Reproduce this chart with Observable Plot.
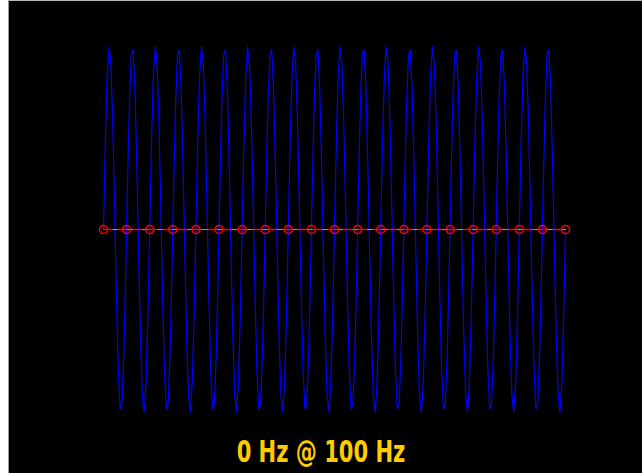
<!DOCTYPE html>
<html>
<head>
<meta charset="utf-8">
<script src="https://cdn.jsdelivr.net/npm/d3@7"></script>
<script src="https://cdn.jsdelivr.net/npm/@observablehq/plot@0.6"></script>
<style>
  html, body { margin: 0; padding: 0; background: #fff; }
  #panel { position: absolute; left: 8px; top: 0; width: 634px; height: 473px; background: #000;
           border-left: 1px solid #999; border-top: 1px solid #bbb; box-sizing: border-box; }
  #chart { position: absolute; left: 0; top: 0; }
  #title { position: absolute; left: 0; width: 642px; top: 434px; text-align: center;
           font-family: "Liberation Sans Narrow", "DejaVu Sans Condensed", sans-serif; font-weight: bold;
           font-size: 30px; color: #ffcc00; transform: scaleX(0.78); transform-origin: 321px 0; }
</style>
</head>
<body>
<div id="panel"></div>
<div id="chart"></div>
<div id="title">0 Hz @ 100 Hz</div>
<script>
// Continuous 100 Hz signal, step 0.0008 s
const waveStep = 0.0008;
const waveY = [
0, 0.482, 0.844, 0.998, 0.905, 0.588, 0.125, -0.368, -0.771, -0.982, -0.951, -0.685, -0.249, 0.249, 0.685, 0.951, 0.982, 0.771, 0.368, -0.125, -0.588, -0.905, -0.998, -0.844, -0.482,
0, 0.482, 0.844, 0.998, 0.905, 0.588, 0.125, -0.368, -0.771, -0.982, -0.951, -0.685, -0.249, 0.249, 0.685, 0.951, 0.982, 0.771, 0.368, -0.125, -0.588, -0.905, -0.998, -0.844, -0.482,
0, 0.482, 0.844, 0.998, 0.905, 0.588, 0.125, -0.368, -0.771, -0.982, -0.951, -0.685, -0.249, 0.249, 0.685, 0.951, 0.982, 0.771, 0.368, -0.125, -0.588, -0.905, -0.998, -0.844, -0.482,
0, 0.482, 0.844, 0.998, 0.905, 0.588, 0.125, -0.368, -0.771, -0.982, -0.951, -0.685, -0.249, 0.249, 0.685, 0.951, 0.982, 0.771, 0.368, -0.125, -0.588, -0.905, -0.998, -0.844, -0.482,
0, 0.482, 0.844, 0.998, 0.905, 0.588, 0.125, -0.368, -0.771, -0.982, -0.951, -0.685, -0.249, 0.249, 0.685, 0.951, 0.982, 0.771, 0.368, -0.125, -0.588, -0.905, -0.998, -0.844, -0.482,
0, 0.482, 0.844, 0.998, 0.905, 0.588, 0.125, -0.368, -0.771, -0.982, -0.951, -0.685, -0.249, 0.249, 0.685, 0.951, 0.982, 0.771, 0.368, -0.125, -0.588, -0.905, -0.998, -0.844, -0.482,
0, 0.482, 0.844, 0.998, 0.905, 0.588, 0.125, -0.368, -0.771, -0.982, -0.951, -0.685, -0.249, 0.249, 0.685, 0.951, 0.982, 0.771, 0.368, -0.125, -0.588, -0.905, -0.998, -0.844, -0.482,
0, 0.482, 0.844, 0.998, 0.905, 0.588, 0.125, -0.368, -0.771, -0.982, -0.951, -0.685, -0.249, 0.249, 0.685, 0.951, 0.982, 0.771, 0.368, -0.125, -0.588, -0.905, -0.998, -0.844, -0.482,
0, 0.482, 0.844, 0.998, 0.905, 0.588, 0.125, -0.368, -0.771, -0.982, -0.951, -0.685, -0.249, 0.249, 0.685, 0.951, 0.982, 0.771, 0.368, -0.125, -0.588, -0.905, -0.998, -0.844, -0.482,
0, 0.482, 0.844, 0.998, 0.905, 0.588, 0.125, -0.368, -0.771, -0.982, -0.951, -0.685, -0.249, 0.249, 0.685, 0.951, 0.982, 0.771, 0.368, -0.125, -0.588, -0.905, -0.998, -0.844, -0.482,
0
];
// Samples taken at 100 Hz
const sampleT = [0, 0.01, 0.02, 0.03, 0.04, 0.05, 0.06, 0.07, 0.08, 0.09, 0.10, 0.11, 0.12, 0.13, 0.14, 0.15, 0.16, 0.17, 0.18, 0.19, 0.20];
const sampleY = [0, 0, 0, 0, 0, 0, 0, 0, 0, 0, 0, 0, 0, 0, 0, 0, 0, 0, 0, 0, 0];
// Apparent (aliased) 0 Hz signal
const aliasT = [0, 0.20];
const aliasY = [0, 0];

const wave = waveY.map((y, i) => ({t: i * waveStep, y}));
const samples = sampleT.map((t, i) => ({t, y: sampleY[i]}));
const alias = aliasT.map((t, i) => ({t, y: aliasY[i]}));

const chart = Plot.plot({
  width: 642,
  height: 473,
  marginLeft: 103,
  marginRight: 77,
  marginTop: 46,
  marginBottom: 61,
  style: {background: "transparent"},
  x: {domain: [0, 0.2], axis: null},
  y: {domain: [-1, 1], axis: null},
  marks: [
    Plot.line(wave, {x: "t", y: "y", stroke: "#0000ff", strokeWidth: 1.2}),
    Plot.line(samples, {x: "t", y: "y", stroke: "#00ff00", strokeWidth: 1.2}),
    Plot.line(alias, {x: "t", y: "y", stroke: "#ff0000", strokeWidth: 1.5, strokeDasharray: "8,7"}),
    Plot.dot(samples, {x: "t", y: "y", r: 4, stroke: "#ff0000", strokeWidth: 1.5, fill: "none"})
  ]
});
document.getElementById("chart").appendChild(chart);
</script>
</body>
</html>
